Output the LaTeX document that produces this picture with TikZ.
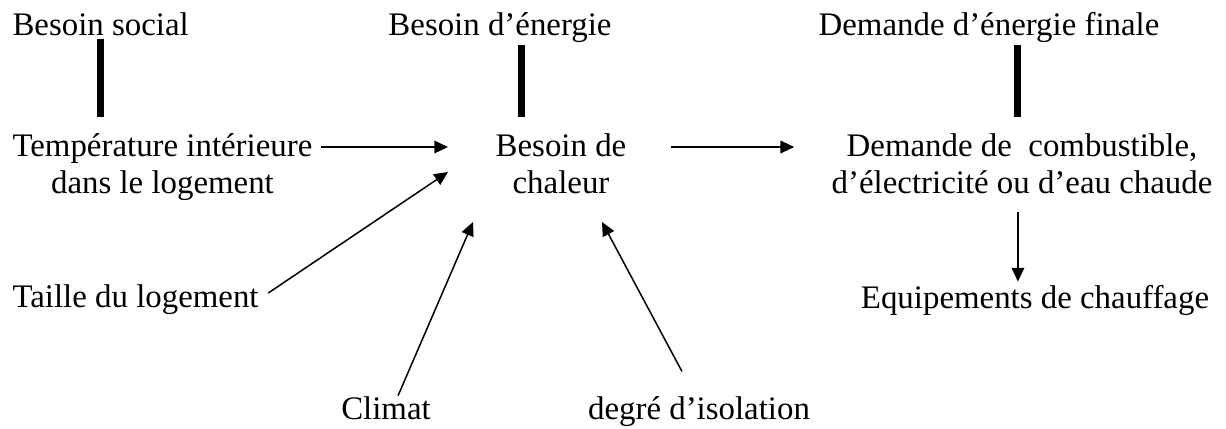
\documentclass[tikz,border=0pt]{standalone}
\usepackage{fontspec}
\setmainfont{Liberation Serif}
\usepackage{tikz}
\usetikzlibrary{arrows.meta,positioning,calc}

\tikzset{
  lbl/.style={inner sep=0pt,align=center,font=\fontsize{12}{13.2}\selectfont},
  bar/.style={line width=2.6pt},
  arr/.style={line width=0.55pt,-{Triangle[length=5pt,width=4.6pt]}}
}

\begin{document}
\begin{tikzpicture}[x=0.365pt,y=-0.365pt]
\useasboundingbox (0,0) rectangle (1226,428);
% top row
\node[lbl,anchor=base west] (social) at (12,35) {Besoin social};
\node[lbl,anchor=base] (energie) at (500,35) {Besoin d’énergie};
\node[lbl,anchor=base] (finale) at (989,35) {Demande d’énergie finale};
% middle row
\node[lbl,anchor=base west] (temp) at (12,193) {Température intérieure\\dans le logement};
\node[lbl,anchor=base] (chaleur) at (561,193) {Besoin de\\chaleur};
\node[lbl,anchor=base] (combust) at (1022,193) {Demande de~ combustible,\\d’électricité ou d’eau chaude};
% lower rows
\node[lbl,anchor=base west] (taille) at (12,307) {Taille du logement};
\node[lbl,anchor=base] (equip) at (1035,308) {Equipements de chauffage};
\node[lbl,anchor=base] (climat) at (386,419) {Climat};
\node[lbl,anchor=base] (isol) at (699,419) {degré d’isolation};
% arrow tips
\coordinate (c1) at (448,147);
\coordinate (c3) at (448,172);
\coordinate (c4) at (473,222);
\coordinate (c5) at (602,222);
% bars
\draw[bar,shorten <=1pt,shorten >=6pt] (social.south) -- (social.south |- temp.north);
\draw[bar,shorten <=1pt,shorten >=6pt] ([xshift=7.7pt]energie.south) -- ([xshift=7.7pt]energie.south |- chaleur.north);
\draw[bar,shorten <=1pt,shorten >=6pt] ([xshift=-1.5pt]finale.south -| combust.north) -- ([xshift=-1.5pt]combust.north);
% arrows
\draw[arr,shorten <=3pt] (c1 -| temp.east) -- (c1);
\draw[arr,shorten <=16pt,shorten >=13.5pt] (chaleur.east |- c1) -- (combust.west |- c1);
\draw[arr,shorten <=6.5pt,shorten >=1pt] ([xshift=-1.5pt]combust.south) -- ([xshift=-1.5pt]combust.south |- equip.north);
\draw[arr,shorten <=4pt] (taille.east) -- (c3);
\draw[arr] ([xshift=4.4pt]climat.north) -- (c4);
\draw[arr,shorten <=10pt] ([xshift=-1.5pt]isol.north) -- (c5);
\end{tikzpicture}
\end{document}
